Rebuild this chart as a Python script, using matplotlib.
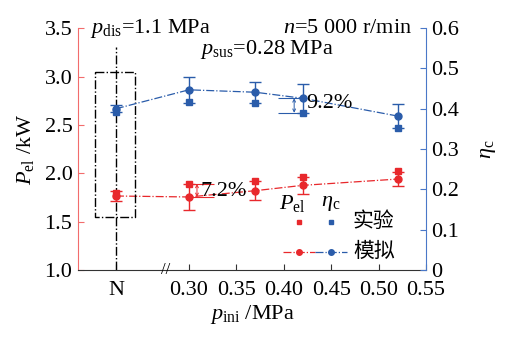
import numpy as np
import matplotlib
matplotlib.use('Agg')
import matplotlib.pyplot as plt

plt.rcParams['font.family'] = ['Liberation Serif', 'Noto Sans CJK SC']
plt.rcParams['mathtext.fontset'] = 'custom'
plt.rcParams['mathtext.rm'] = 'Liberation Serif'
plt.rcParams['mathtext.it'] = 'Liberation Serif:italic'
plt.rcParams['font.size'] = 16

RED = '#e8282c'
BLUE = '#2a5caa'

# x positions (N is placed left of the axis break)
x_pos = [0.223, 0.30, 0.37, 0.42, 0.52]
x_ticks = [0.223, 0.30, 0.35, 0.40, 0.45, 0.50, 0.55]
x_ticklabels = ['N', '0.30', '0.35', '0.40', '0.45', '0.50', '0.55']

# P_el /kW
pel_exp = [1.80, 1.89, 1.92, 1.96, 2.02]
pel_sim = [1.765, 1.755, 1.82, 1.875, 1.94]
pel_err = [0.05, 0.135, 0.10, 0.085, 0.07]

# eta_c
eta_exp = [0.392, 0.416, 0.415, 0.39, 0.352]
eta_sim = [0.400, 0.447, 0.441, 0.426, 0.382]
eta_err = [0.009, 0.032, 0.026, 0.036, 0.030]

fig = plt.figure(figsize=(5.08, 3.39), dpi=100)
ax = fig.add_axes([0.1535, 0.2035, 0.685, 0.7135])
ax2 = ax.twinx()

ax.set_xlim(0.183, 0.55)
ax.set_ylim(1.0, 3.5)
ax2.set_ylim(0, 0.6)

# red: P_el
ax.errorbar(x_pos, pel_sim, yerr=pel_err, fmt='o', color=RED, ms=5,
            capsize=4, elinewidth=1, capthick=1, zorder=3)
ax.plot(x_pos, pel_sim, '-.', color=RED, lw=0.9, zorder=2)
ax.plot(x_pos, pel_exp, 's', color=RED, ms=4.5, zorder=3)

# blue: eta_c
ax2.errorbar(x_pos, eta_sim, yerr=eta_err, fmt='o', color=BLUE, ms=5,
             capsize=4, elinewidth=1, capthick=1, zorder=3)
ax2.plot(x_pos, eta_sim, '-.', color=BLUE, lw=0.9, zorder=2)
ax2.plot(x_pos, eta_exp, 's', color=BLUE, ms=4.5, zorder=3)

# N marker: dash-dot box and vertical line
ax.plot([0.2014, 0.243, 0.243, 0.2014, 0.2014], [3.05, 3.05, 1.55, 1.55, 3.05],
        ls='-.', color='black', lw=1)
ax.plot([x_pos[0], x_pos[0]], [1.0, 3.31], ls='-.', color='black', lw=1)

# deviation annotations
ax.hlines([pel_exp[1], pel_sim[1]], 0.30, 0.326, color=RED, lw=0.8)
ax.annotate('', xy=(0.3085, pel_exp[1]), xytext=(0.3085, pel_sim[1]),
            arrowprops=dict(arrowstyle='<->', color=RED, lw=0.7, shrinkA=0, shrinkB=0,
                            mutation_scale=5))
ax.text(0.3125, 1.81, '7.2%', ha='left', va='center')
ax2.hlines([eta_sim[3], eta_exp[3]], 0.394, 0.4247, color=BLUE, lw=0.8)
ax2.annotate('', xy=(0.411, eta_sim[3]), xytext=(0.411, eta_exp[3]),
             arrowprops=dict(arrowstyle='<->', color=BLUE, lw=0.7, shrinkA=0, shrinkB=0,
                             mutation_scale=5))
ax2.text(0.4235, 0.413, '9.2%', ha='left', va='center')

# axis break
ax.text(0.2757, 1.0, '//', ha='center', va='center', fontsize=12)

# spines / ticks
ax.spines['top'].set_visible(False)
ax2.spines['top'].set_visible(False)
ax.spines['right'].set_visible(False)
ax2.spines['left'].set_visible(False)
ax2.spines['bottom'].set_visible(False)
ax.spines['left'].set_color('#f26c6c')
ax2.spines['right'].set_color('#4a78c8')
ax.spines['bottom'].set_color('#333333')

ax.set_xticks(x_ticks)
ax.set_xticklabels(x_ticklabels)
ax.set_yticks(np.arange(1.0, 3.51, 0.5))
ax.set_yticklabels(['1.0', '1.5', '2.0', '2.5', '3.0', '3.5'])
ax2.set_yticks(np.arange(0, 0.61, 0.1))
ax2.set_yticklabels(['0', '0.1', '0.2', '0.3', '0.4', '0.5', '0.6'])
ax.tick_params(axis='y', direction='in', length=4, color='#f26c6c', pad=4)
ax.tick_params(axis='x', direction='in', length=4, color='#333333', pad=8)
ax2.tick_params(axis='y', direction='in', length=4, color='#4a78c8', pad=4)

ax.set_ylabel(r'$P_{\rm el}$ /kW', labelpad=6)
ax2.set_ylabel(r'$\eta_{\rm c}$', labelpad=14)
ax.set_xlabel(r'$p_{\rm ini}$ /MPa', labelpad=2)

# condition texts
ax.text(0.034, 1.0, r'$p_{\rm dis}$=1.1 MPa', transform=ax.transAxes,
        ha='left', va='center')
ax.text(0.35, 0.91, r'$p_{\rm sus}$=0.28 MPa', transform=ax.transAxes,
        ha='left', va='center')
ax.text(0.96, 1.0, r'$n$=5 000 r/min', transform=ax.transAxes,
        ha='right', va='center')

# custom legend
tr = ax.transAxes
ax.text(0.615, 0.275, r'$P_{\rm el}$', transform=tr, ha='center', va='center')
ax.text(0.725, 0.275, r'$\eta_{\rm c}$', transform=tr, ha='center', va='center')
ax.plot([0.635], [0.198], 's', color=RED, ms=3.5, transform=tr, clip_on=False)
ax.plot([0.726], [0.198], 's', color=BLUE, ms=3.5, transform=tr, clip_on=False)
ax.plot([0.589, 0.681], [0.074, 0.074], '-.', color=RED, lw=0.9, transform=tr)
ax.plot([0.635], [0.074], 'o', color=RED, ms=4, transform=tr)
ax.plot([0.681, 0.773], [0.074, 0.074], '-.', color=BLUE, lw=0.9, transform=tr)
ax.plot([0.726], [0.074], 'o', color=BLUE, ms=4, transform=tr)
ax.text(0.79, 0.198, '实验', transform=tr, ha='left', va='center', fontsize=15)
ax.text(0.79, 0.074, '模拟', transform=tr, ha='left', va='center', fontsize=15)

fig.savefig('out.png', dpi=100)
